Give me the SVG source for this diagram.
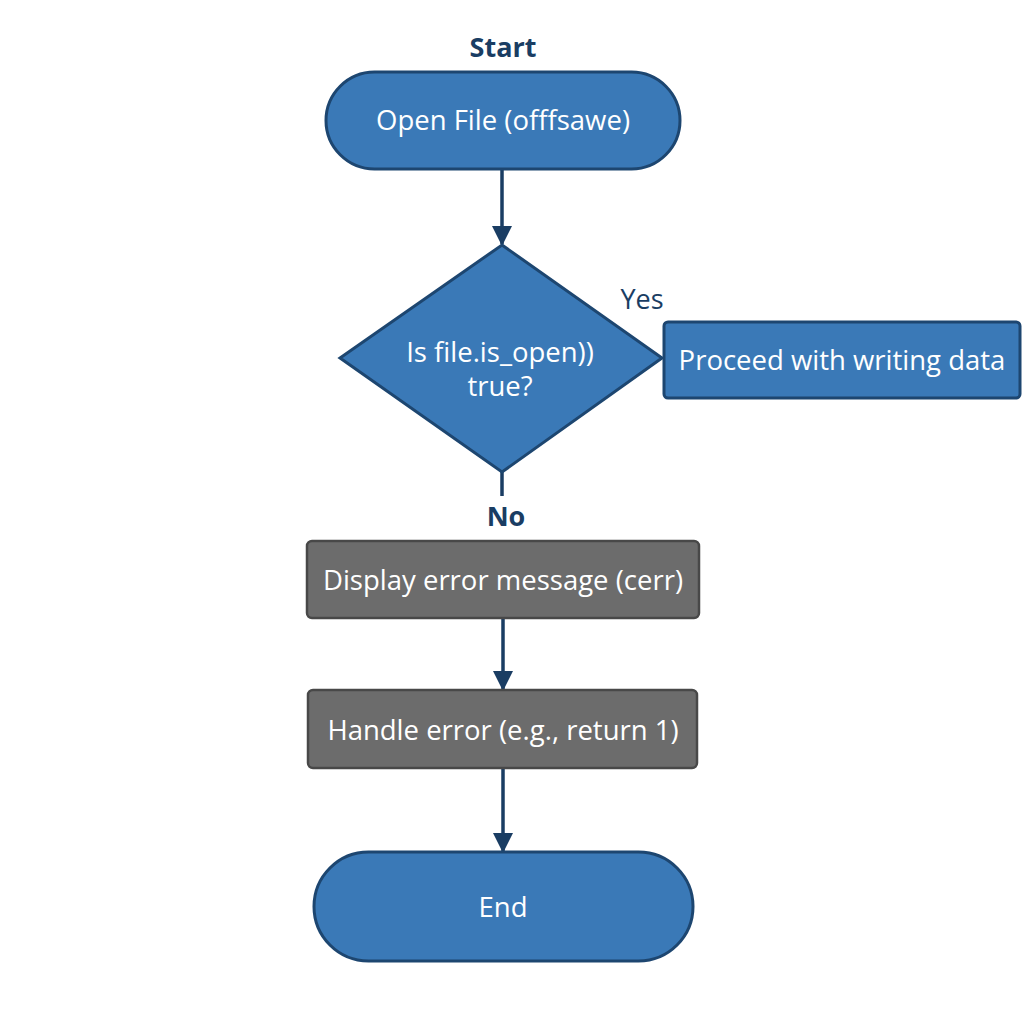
<svg xmlns="http://www.w3.org/2000/svg" width="1024" height="1024" viewBox="0 0 1024 1024">
  <defs>
    <marker id="arrow" markerWidth="20" markerHeight="20" refX="18" refY="10" orient="auto" markerUnits="userSpaceOnUse" viewBox="0 0 20 20">
      <path d="M0,0 L20,10 L0,20 Z" fill="#1a3d63"/>
    </marker>
    <style>
      .blue { fill: #3a79b7; stroke: #1d4670; stroke-width: 3; }
      .grey { fill: #6c6c6c; stroke: #484848; stroke-width: 2.5; }
      .lbl { font-family: "Open Sans", "Noto Sans", sans-serif; font-size: 27.5px; fill: #ffffff; text-anchor: middle; }
      .edge { font-family: "Open Sans", "Noto Sans", sans-serif; font-size: 27px; fill: #1a3d63; text-anchor: middle; }
      .conn { stroke: #1a3d63; stroke-width: 3.5; fill: none; }
    </style>
  </defs>
  <rect width="1024" height="1024" fill="#ffffff"/>

  <!-- connectors and their labels -->
  <g id="connectors">
    <line class="conn" x1="502" y1="170" x2="502" y2="244" marker-end="url(#arrow)"/>
    <line class="conn" x1="502" y1="472" x2="502" y2="496"/>
    <line class="conn" x1="503" y1="619" x2="503" y2="689" marker-end="url(#arrow)"/>
    <line class="conn" x1="503" y1="769" x2="503" y2="851" marker-end="url(#arrow)"/>
    <text class="edge" x="503" y="57" font-weight="bold" font-size="28">Start</text>
    <text class="edge" x="642" y="309">Yes</text>
    <text class="edge" x="506" y="526" font-weight="bold">No</text>
  </g>

  <g id="open-file">
    <rect class="blue" x="326" y="72" width="354" height="97" rx="48.5"/>
    <text class="lbl" x="503" y="130">Open File (offfsawe)</text>
  </g>

  <g id="decision">
    <polygon class="blue" points="502,245 662,358 502,472 340,358"/>
    <text class="lbl" x="500" y="362">Is file.is_open))</text>
    <text class="lbl" x="500" y="396">true?</text>
  </g>

  <g id="proceed">
    <rect class="blue" x="664" y="322" width="356" height="76" rx="4"/>
    <text class="lbl" x="842" y="370">Proceed with writing data</text>
  </g>

  <g id="display-error">
    <rect class="grey" x="307" y="541" width="392" height="77" rx="5"/>
    <text class="lbl" x="503" y="590">Display error message (cerr)</text>
  </g>

  <g id="handle-error">
    <rect class="grey" x="308" y="690" width="389" height="78" rx="5"/>
    <text class="lbl" x="503" y="740">Handle error (e.g., return 1)</text>
  </g>

  <g id="end">
    <rect class="blue" x="314" y="852" width="379" height="109" rx="54.5"/>
    <text class="lbl" x="503" y="917">End</text>
  </g>
</svg>
